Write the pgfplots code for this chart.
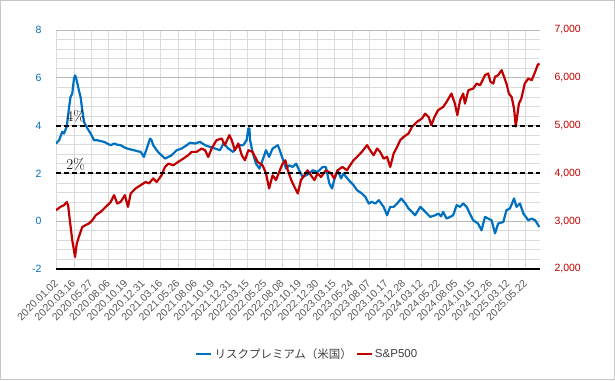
\documentclass[border=0pt]{standalone}
\usepackage{fontspec}
\newfontfamily\sans{Liberation Sans}
\newfontfamily\jp{Noto Sans CJK JP}
\usepackage{pgfplots}
\pgfplotsset{compat=1.18}
\definecolor{rpblue}{RGB}{0,112,192}
\definecolor{spred}{RGB}{192,0,0}
\definecolor{txtgray}{RGB}{89,89,89}
\definecolor{legtxt}{RGB}{64,64,64}

\begin{document}
\begin{tikzpicture}
\useasboundingbox (0pt,0pt) rectangle (615pt,380pt);
\draw[gray!45, line width=1.2pt] (0.6pt,0.6pt) rectangle (614.4pt,379.4pt);
\begin{axis}[
  at={(56pt,111pt)}, anchor=south west,
  width=484pt, height=239pt, scale only axis,
  xmin=0, xmax=1399, ymin=-2, ymax=8,
  axis x line*=bottom, axis y line*=left,
  x axis line style={black, line width=1.2pt, -},
  y axis line style={draw=none},
  xtick={2,52.2,102.4,152.6,202.8,253,303.2,353.4,403.6,453.8,504,554.2,604.4,654.6,704.8,755,805.2,855.4,905.6,955.8,1006,1056.2,1106.4,1156.6,1206.8,1257,1307.2,1357.4},
  xticklabels={2020.01.02,2020.03.16,2020.05.27,2020.08.06,2020.10.19,2020.12.31,2021.03.16,2021.05.26,2021.08.06,2021.10.19,2021.12.31,2022.03.15,2022.05.25,2022.08.08,2022.10.19,2022.12.30,2023.03.15,2023.05.24,2023.08.07,2023.10.17,2023.12.28,2024.03.12,2024.05.22,2024.08.05,2024.10.15,2024.12.26,2025.03.12,2025.05.22},
  xticklabel style={xshift=2pt, yshift=-10pt, rotate=45, anchor=east, font=\sans\fontsize{10.5}{12}\selectfont, text=txtgray},
  ytick={-2,0,2,4,6,8},
  minor y tick num=4,
  yticklabel style={text=rpblue, xshift=-11pt, font=\sans\fontsize{10.5}{12}\selectfont},
  major tick length=0pt, minor tick length=0pt,
  grid=both,
  major x grid style={gray!28, line width=0.8pt},
  major y grid style={gray!55, line width=0.8pt},
  minor y grid style={gray!28, line width=0.8pt},
  /pgf/number format/assume math mode=true,
]
\addplot[rpblue, line width=2.2pt, line join=round] coordinates {
(0,3.25)(9,3.39)(18,3.74)(23,3.67)(31,3.95)(38,4.78)(42,5.20)(47,5.34)(52,5.97)(55,6.10)(57,6.04)(62,5.76)(66,5.48)(71,5.20)(76,4.64)(81,4.15)(91,3.88)(100,3.67)(110,3.39)(119,3.39)(129,3.35)(139,3.32)(148,3.25)(158,3.18)(168,3.25)(177,3.20)(187,3.18)(196,3.10)(206,3.04)(216,3.00)(225,2.97)(235,2.93)(245,2.90)(254,2.69)(264,3.11)(272,3.46)(276,3.40)(281,3.18)(291,2.97)(298,2.85)(305,2.76)(315,2.62)(325,2.69)(334,2.76)(349,2.97)(363,3.04)(378,3.18)(387,3.28)(402,3.25)(416,3.32)(431,3.18)(445,3.11)(460,3.04)(474,2.97)(484,3.25)(498,3.04)(512,2.90)(527,3.18)(541,3.18)(551,3.39)(556,3.88)(559,3.88)(561,3.39)(568,2.90)(578,2.41)(588,2.20)(597,2.55)(607,2.97)(616,2.69)(626,3.04)(641,3.18)(645,3.04)(655,2.62)(665,2.20)(674,2.34)(684,2.27)(694,2.41)(703,2.13)(713,1.85)(723,1.92)(732,2.00)(742,2.13)(756,2.06)(771,2.27)(780,2.27)(790,1.58)(798,1.37)(804,1.72)(814,2.13)(824,1.79)(831,2.00)(836,1.90)(846,1.72)(860,1.51)(870,1.30)(884,1.16)(894,1.02)(904,0.74)(913,0.81)(923,0.74)(933,0.88)(947,0.60)(957,0.25)(966,0.60)(976,0.60)(986,0.74)(998,0.95)(1010,0.74)(1019,0.53)(1029,0.39)(1038,0.25)(1053,0.60)(1063,0.46)(1072,0.32)(1082,0.18)(1096,0.25)(1106,0.32)(1113,0.20)(1119,0.39)(1129,0.11)(1139,0.18)(1148,0.25)(1158,0.67)(1168,0.60)(1177,0.74)(1187,0.60)(1196,0.32)(1206,0.04)(1220,-0.10)(1230,-0.38)(1240,0.18)(1249,0.11)(1259,0.04)(1269,-0.51)(1278,-0.10)(1293,-0.03)(1302,0.46)(1312,0.53)(1324,0.95)(1331,0.60)(1341,0.74)(1351,0.32)(1365,0.04)(1375,0.11)(1385,0.04)(1397,-0.24)
};
\end{axis}
\begin{axis}[
  at={(56pt,111pt)}, anchor=south west,
  width=484pt, height=239pt, scale only axis,
  xmin=0, xmax=1399, ymin=2000, ymax=7000,
  axis x line=none, axis y line*=right,
  y axis line style={draw=none},
  ytick={2000,3000,4000,5000,6000,7000},
  yticklabel style={text=spred, xshift=11pt, font=\sans\fontsize{10.5}{12}\selectfont},
  major tick length=0pt,
  /pgf/number format/assume math mode=true,
  /pgf/number format/1000 sep={,},
  legend columns=2,
  legend style={at={(0.519,-0.356)}, anchor=center, draw=none, fill=none,
    font=\sans\fontsize{11.5}{13}\selectfont, text=legtxt,
    /tikz/every even column/.append style={column sep=2pt},
    /tikz/every odd column/.append style={column sep=0pt}},
  legend image code/.code={\draw[#1] (0pt,0pt) -- (15pt,0pt);},
]
\addlegendimage{rpblue, line width=2.4pt}
\addlegendentry{\jp リスクプレミアム（米国）}
\addplot[spred, line width=2.2pt, line join=round] coordinates {
(0,3230)(13,3300)(23,3335)(31,3400)(35,3335)(40,3020)(47,2600)(52,2390)(55,2250)(60,2530)(66,2670)(76,2880)(86,2920)(95,2950)(105,3020)(115,3125)(129,3195)(144,3300)(158,3400)(168,3545)(177,3370)(187,3405)(199,3545)(208,3300)(216,3580)(230,3685)(245,3755)(259,3820)(269,3790)(281,3895)(291,3820)(305,3960)(315,4135)(325,4205)(339,4170)(353,4240)(368,4310)(382,4380)(392,4450)(406,4450)(421,4520)(431,4485)(440,4345)(450,4520)(464,4695)(479,4730)(488,4590)(501,4800)(508,4695)(517,4485)(527,4625)(537,4380)(546,4275)(556,4485)(568,4450)(583,4240)(597,4170)(607,4000)(616,3685)(626,3960)(636,3860)(645,4030)(655,4205)(663,4275)(670,4065)(680,3860)(689,3720)(699,3580)(708,3860)(718,3960)(727,4065)(737,3960)(747,3860)(756,4000)(766,3925)(780,4065)(795,4000)(804,3895)(814,4065)(828,4135)(841,4065)(850,4170)(860,4275)(870,4345)(884,4450)(899,4590)(908,4485)(918,4380)(928,4520)(937,4450)(947,4310)(957,4345)(966,4135)(976,4415)(986,4555)(995,4695)(1005,4765)(1019,4835)(1029,4975)(1043,5075)(1058,5150)(1067,5250)(1077,5180)(1085,5010)(1094,5180)(1104,5320)(1119,5390)(1129,5495)(1143,5670)(1153,5460)(1160,5220)(1168,5530)(1177,5670)(1182,5460)(1192,5740)(1206,5775)(1216,5880)(1226,5845)(1240,6055)(1249,6090)(1256,5915)(1264,5880)(1269,6020)(1278,6055)(1288,6160)(1295,6020)(1302,5880)(1309,5670)(1317,5600)(1324,5355)(1329,4980)(1334,5250)(1338,5460)(1345,5565)(1355,5880)(1365,5985)(1375,5950)(1385,6125)(1392,6265)(1397,6300)
};
\addlegendentry{S\&P500}
\addplot[black, line width=2pt, dash pattern=on 5pt off 3pt, forget plot] coordinates {(0,5000)(1399,5000)};
\addplot[black, line width=2pt, dash pattern=on 5pt off 3pt, forget plot] coordinates {(0,4000)(1399,4000)};
\node[anchor=south, inner sep=0pt, text=black, font=\fontsize{15}{15}\selectfont] at (axis cs:57,5070) {4\%};
\node[anchor=south, inner sep=0pt, text=black, font=\fontsize{15}{15}\selectfont] at (axis cs:57,4070) {2\%};
\end{axis}
\end{tikzpicture}
\end{document}
